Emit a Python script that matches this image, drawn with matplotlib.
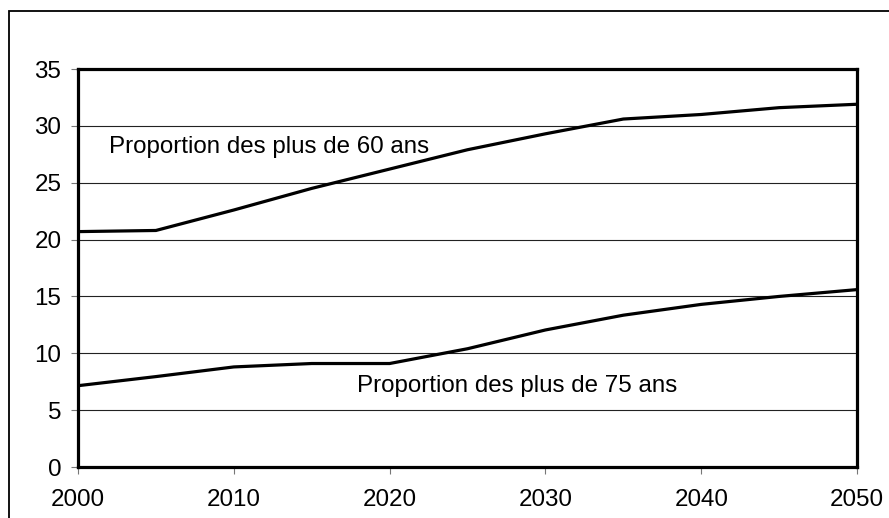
import numpy as np
import matplotlib
matplotlib.use('Agg')
from matplotlib import pyplot as plt
from matplotlib.patches import Rectangle

plt.rcParams['font.family'] = ['Liberation Sans', 'DejaVu Sans']

annees = [2000, 2005, 2010, 2015, 2020, 2025, 2030, 2035, 2040, 2045, 2050]
plus60 = [20.7, 20.8, 22.6, 24.5, 26.2, 27.9, 29.3, 30.6, 31.0, 31.6, 31.9]
plus75 = [7.15, 7.95, 8.8, 9.1, 9.1, 10.4, 12.05, 13.35, 14.3, 15.0, 15.6]
xticks = [2000, 2010, 2020, 2030, 2040, 2050]
yticks = [0, 5, 10, 15, 20, 25, 30, 35]

fig = plt.figure(figsize=(8.89, 5.18), dpi=100)
ax = fig.add_axes([78/889, 1-467/518, (857-78)/889, (467-69)/518])

# cadre exterieur
fig.patches.append(Rectangle((8.5/889, -0.1), 1.2, 1-11/518+0.1,
                             transform=fig.transFigure, fill=False,
                             edgecolor='black', linewidth=1.3))

for y in yticks[1:-1]:
    ax.axhline(y, color='#222222', linewidth=0.8, zorder=1)

ax.plot(annees, plus60, color='black', linewidth=2.3, zorder=3, solid_joinstyle='miter')
ax.plot(annees, plus75, color='black', linewidth=2.3, zorder=3, solid_joinstyle='miter')

ax.text(2002.0, 28.1, 'Proportion des plus de 60 ans', fontsize=17.4, va='center', ha='left')
ax.text(2017.9, 7.1, 'Proportion des plus de 75 ans', fontsize=17.4, va='center', ha='left')

ax.set_xlim(2000, 2050)
ax.set_ylim(0, 35)
ax.set_xticks(xticks)
ax.set_yticks(yticks)
ax.tick_params(axis='both', direction='out', length=5, width=0.8, color='#777777',
               labelsize=17.4, labelcolor='black', pad=11)
ax.tick_params(axis='y', pad=7)
for s in ax.spines.values():
    s.set_linewidth(2.3)
    s.set_color('black')

fig.savefig('out.png', dpi=100)
